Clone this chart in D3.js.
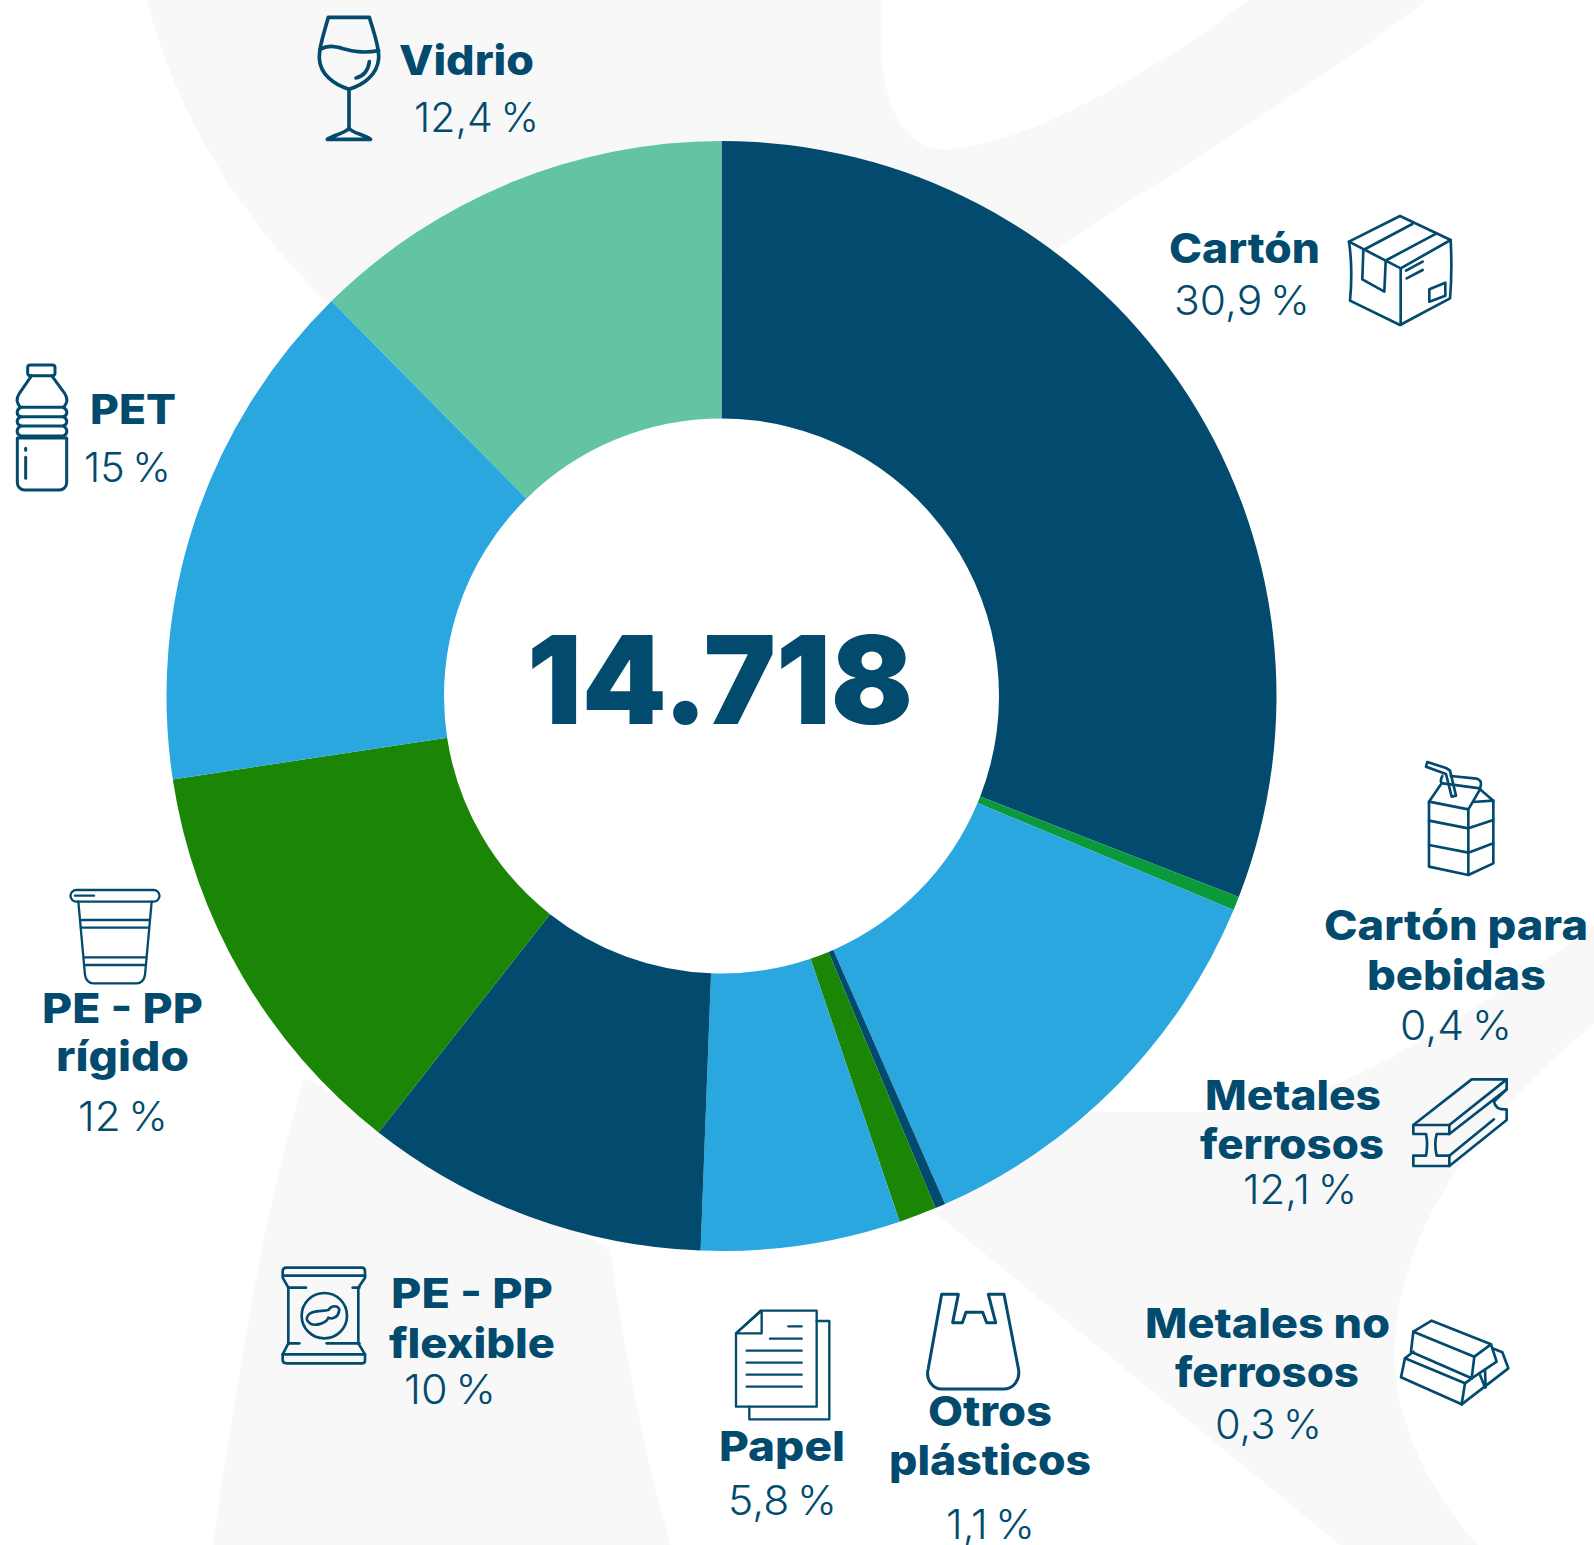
<!DOCTYPE html>
<html><head><meta charset="utf-8"><script src="https://cdn.jsdelivr.net/npm/d3@7"></script>
<style>html,body{margin:0;background:#fff}svg{display:block}</style></head><body><svg id="c" width="1594" height="1545"></svg>
<script>
const categories=["Cartón","Cartón para bebidas","Metales ferrosos","Metales no ferrosos","Otros plásticos","Papel","PE - PP flexible","PE - PP rígido","PET","Vidrio"];
const shares=[30.9,0.4,12.1,0.3,1.1,5.8,10,12,15,12.4];
const shareLabels=["30,9 %","0,4 %","12,1 %","0,3 %","1,1 %","5,8 %","10 %","12 %","15 %","12,4 %"];
const total="14.718";
const colors=["#024b6e","#0a9a3c","#2ba7e0","#024b6e","#1b8505","#2ba7e0","#024b6e","#1b8505","#2ba7e0","#62c4a3"];
const ink="#024b6e", wash="#f8f8f8";

const svg=d3.select("#c");

// soft background shapes
const bg=svg.append("g").attr("fill",wash);
bg.append("path").attr("d","M147 0C175 115 245 225 335 310L1054 250C1160 180 1310 90 1427 0H1249C1150 75 1020 148 945 149C895 149 875 85 882 0Z");
bg.append("path").attr("d","M935 1213L1090 1112H1253C1340 1090 1440 1040 1594 925V1024C1530 1075 1470 1140 1430 1215C1395 1285 1385 1360 1405 1420C1420 1470 1450 1515 1478 1545H1340Z");
bg.append("path").attr("d","M305 1078L610 1250C625 1350 645 1460 671 1545H213C235 1390 265 1200 305 1078Z");

// donut
const g=svg.append("g").attr("transform","translate(721.5,696)");
const arc=d3.arc().innerRadius(277.5).outerRadius(555);
const pie=d3.pie().sort(null)(shares);
g.selectAll("path").data(pie).join("path").attr("d",arc).attr("fill",(d,i)=>colors[i]);

// text placement by left edge, right edge and baseline
function txt(t,x0,x1,y,w,s,ws){
  svg.append("text").attr("x",x0).attr("y",y).attr("font-family","Inter").attr("font-weight",w).attr("font-size",s)
    .attr("word-spacing",ws).attr("fill",ink).attr("textLength",x1-x0).attr("lengthAdjust","spacingAndGlyphs").text(t);
}
function name(t,x0,x1,y){txt(t,x0-1,x1+1,y,850,41,0);}
function val(t,x0,x1,y){txt(t,x0-1,x1+3,y,300,41,-4);}
txt(total,527,913,724,900,122,0);
name("Cartón",1170,1319,263); val(shareLabels[0],1175,1307,315);
name("Cartón para",1325,1587,940); name("bebidas",1368,1545,990); val(shareLabels[1],1401,1509,1040);
name("Metales",1206,1380,1110); name("ferrosos",1201,1383,1159); val(shareLabels[2],1244,1354,1204);
name("Metales no",1146,1389,1338); name("ferrosos",1176,1358,1387); val(shareLabels[3],1216,1319,1439);
name("Otros",929,1051,1426); name("plásticos",890,1090,1475); val(shareLabels[4],947,1032,1539);
name("Papel",720,844,1461); val(shareLabels[5],729,834,1515);
name("PE - PP",392,552,1308); name("flexible",390,554,1358); val(shareLabels[6],405,493,1404);
name("PE - PP",43,202,1023); name("rígido",57,188,1071); val(shareLabels[7],79,165,1131);
name("PET",91,175,424); val(shareLabels[8],85,168,482);
name("Vidrio",400,533,75); val(shareLabels[9],415,536,132);

// icons
function icon(x,y,sw,paths){
  const i=svg.append("g").attr("transform",`translate(${x},${y}) scale(${1/3})`)
    .attr("fill","none").attr("stroke",ink).attr("stroke-width",sw).attr("stroke-linejoin","round").attr("stroke-linecap","round");
  paths.forEach(p=>i.append("path").attr("d",p));
}
icon(300,0,11,["M85 52H208C222 100 238 140 236 175C232 225 190 255 147 268C105 255 60 225 58 175C56 140 72 100 85 52Z",
 "M60 148C110 120 140 170 236 152","M208 185C205 210 190 228 168 234","M147 268V385","M147 385C135 400 100 405 82 418H212C195 405 160 400 147 385Z"]);
icon(1150,200,8,["M597 125L750 48L902 120L752 205Z","M640 150L787 72","M710 180L860 100","M640 150L637 238L703 275L707 185",
 "M597 125C605 180 605 250 600 302L750 375L900 295C905 240 905 180 902 120","M752 205V375","M768 212L818 185","M770 235L818 210","M838 268L886 248V287L838 305Z"]);
icon(0,350,9,["M91 45H157Q165 45 165 53V69Q165 77 157 77H91Q83 77 83 69V53Q83 45 91 45Z",
 "M95 77L58 130C48 145 50 160 62 172H190C202 160 204 145 194 130L155 77",
 "M62 172C48 180 48 195 62 200H190C204 195 204 180 190 172","M62 200C48 208 48 222 62 228H190C204 222 204 208 190 200","M62 228C48 236 48 252 62 258H190C204 252 204 236 190 228",
 "M52 264H200V398A22 22 0 0 1 178 420H74A22 22 0 0 1 52 398Z","M77 295V301","M77 322V385"]);
icon(1400,750,8,["M82 36L140 55L150 62L168 137L155 140L138 72L78 50Z","M127 78C118 95 125 100 128 100L240 115","M152 78L230 86C245 90 245 100 240 115",
 "M125 100L87 155L205 178L240 118L280 152L218 156","M87 155V350L205 375L280 340V152","M205 178V375","M87 212L205 235L280 210","M87 285L205 308L280 280"]);
icon(50,880,7,["M79 30H311A17 17 0 0 1 311 65H79A17 17 0 0 1 79 30Z","M75 47H132","M85 65L105 285C107 300 118 310 130 310H260C272 310 283 300 285 285L305 65",
 "M92 120H298","M95 143H296","M103 232H288","M105 255H285"]);
icon(1390,1060,8,["M70 195H178V222H140C135 240 135 265 140 287H178V318H70V287H108C112 265 112 240 108 222H70Z","M70 195L245 58H350L178 195",
 "M350 58V88L178 222","M178 318L350 180V148C325 150 315 140 312 125L350 88","M178 287L312 178"]);
icon(1385,1300,8,["M85 95L140 62L318 133L268 170Z","M85 95L78 155L260 235L268 170","M318 133L335 185L260 235","M60 175L85 155","M60 175L48 232L230 313L240 250L60 175",
 "M230 313L370 205L352 157L322 145","M300 210L302 262","M285 225L300 262","M240 250L260 235"]);
icon(270,1255,8,["M38 48C38 40 45 38 50 38H275C282 38 285 42 285 48V68L265 98V265L285 298V318C285 325 280 325 275 325H50C42 325 38 322 38 315V298L55 265V98L38 68Z",
 "M40 62H285","M55 98H108","M248 98H268","M55 265H88","M170 265H268","M38 298H285",
 "M231 182A68 68 0 1 1 95 182A68 68 0 1 1 231 182Z","M115 180C125 165 160 170 175 165C185 150 205 150 208 165C205 185 190 195 175 188C170 205 135 215 120 205C108 195 108 190 115 180Z"]);
icon(720,1280,7,["M122 92H290V380H48V160Z","M48 160L125 92V160Z","M290 123H328V418H88V380","M205 139H245","M150 176H245","M80 212H245","M80 248H245","M80 284H245","M80 320H245"]);
icon(720,1280,9,["M665 43H715L698 128H727L738 97H788L800 128H827L805 43H852L895 265C902 300 880 327 850 327H665C640 327 615 300 625 265Z"]);
</script></body></html>
